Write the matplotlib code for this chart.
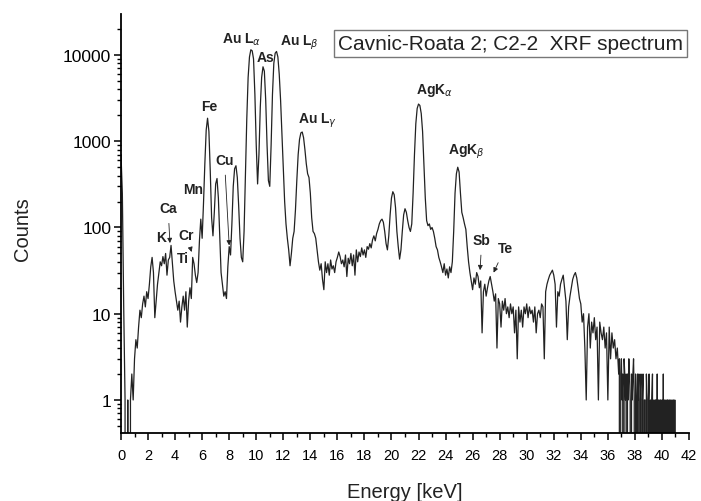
import numpy as np
import matplotlib
matplotlib.use("Agg")
import matplotlib.pyplot as plt
from matplotlib.ticker import LogLocator, MultipleLocator, NullFormatter, FixedLocator, FixedFormatter

plt.rcParams['font.family'] = ['Liberation Sans', 'DejaVu Sans']

# Counts, 0.1 keV bins from 0.0 to 36.7 keV
counts_main = [
    700, 250, 12, 1, 0, 1, 0, 1, 2, 1,                    # 0.0-0.9
    3, 5, 4, 7, 11, 9, 13, 16, 12, 18,                    # 1.0-1.9
    15, 22, 35, 45, 30, 9, 14, 22, 30, 40,                # 2.0-2.9
    36, 46, 38, 50, 28, 42, 45, 62, 38, 24,               # 3.0-3.9
    18, 14, 11, 14, 8, 12, 16, 11, 18, 7,                 # 4.0-4.9
    14, 20, 15, 45, 38, 28, 23, 30, 70, 125,              # 5.0-5.9
    75, 190, 550, 1350, 1850, 1300, 450, 130, 80, 150,    # 6.0-6.9
    320, 370, 220, 80, 30, 22, 16, 18, 15, 35,            # 7.0-7.9
    60, 48, 110, 300, 480, 520, 380, 180, 75, 45,         # 8.0-8.9
    40, 90, 400, 1800, 5500, 9500, 11500, 11200, 9000, 3500,   # 9.0-9.9
    900, 320, 700, 2500, 5500, 7300, 6500, 3000, 900, 350,     # 10.0-10.9
    300, 900, 3500, 8000, 10500, 11000, 9500, 6000, 3000, 1200,  # 11.0-11.9
    450, 200, 110, 75, 55, 36, 50, 75, 90, 160,           # 12.0-12.9
    350, 700, 1050, 1250, 1280, 1100, 800, 550, 420, 380, # 13.0-13.9
    250, 130, 90, 85, 75, 55, 40, 32, 38, 25,             # 14.0-14.9
    19, 40, 30, 38, 28, 42, 33, 36, 30, 40,               # 15.0-15.9
    45, 52, 46, 38, 42, 35, 48, 27, 44, 38,               # 16.0-16.9
    50, 36, 48, 28, 55, 40, 52, 46, 58, 48,               # 17.0-17.9
    55, 45, 60, 56, 65, 58, 72, 80, 70, 85,               # 18.0-18.9
    95, 110, 120, 125, 115, 90, 65, 55, 80, 140,          # 19.0-19.9
    220, 260, 240, 170, 90, 60, 43, 55, 90, 140,          # 20.0-20.9
    165, 150, 120, 100, 90, 110, 250, 700, 1600, 2400,    # 21.0-21.9
    2700, 2600, 2100, 1300, 550, 220, 120, 105, 110, 95,  # 22.0-22.9
    100, 90, 75, 60, 55, 45, 40, 35, 30, 38,              # 23.0-23.9
    28, 33, 26, 35, 30, 40, 90, 250, 420, 500,            # 24.0-24.9
    440, 250, 150, 130, 110, 95, 60, 40, 30, 24,          # 25.0-25.9
    19, 26, 22, 30, 27, 20, 24, 6, 18, 22,                # 26.0-26.9
    16, 20, 24, 27, 22, 18, 14, 17, 4, 15,                # 27.0-27.9
    13, 7, 14, 11, 15, 10, 12, 9, 13, 10,                 # 28.0-28.9
    12, 6, 11, 3, 12, 8, 11, 7, 12, 10,                   # 29.0-29.9
    13, 9, 12, 10, 11, 8, 12, 6, 10, 11,                  # 30.0-30.9
    9, 13, 12, 3, 18, 22, 25, 28, 30, 32,                 # 31.0-31.9
    28, 22, 7, 18, 16, 22, 25, 28, 20, 14,                # 32.0-32.9
    5, 12, 16, 20, 25, 28, 30, 26, 20, 15,                # 33.0-33.9
    13, 8, 10, 4, 1, 7, 10, 4, 8, 6,                      # 34.0-34.9
    9, 5, 7, 1, 8, 6, 5, 7, 4, 6,                         # 35.0-35.9
    1, 7, 3, 6, 4, 5, 3, 4,                               # 36.0-36.7
]
# High-energy tail read at 0.05 keV bins from 36.8 to 41.0 keV
counts_tail = [
    2, 3, 0, 2, 3, 1, 2, 0, 3, 2,
    1, 2, 0, 2, 1, 3, 2, 1, 0, 2,
    1, 2, 3, 1, 0, 2, 1, 0, 2, 1,
    2, 0, 1, 2, 0, 1, 2, 0, 1, 1,
    0, 2, 1, 0, 1, 2, 0, 1, 0, 1,
    2, 0, 1, 0, 1, 1, 0, 2, 0, 1,
    0, 1, 1, 0, 1, 0, 2, 0, 1, 0,
    1, 0, 1, 1, 0, 1, 0, 1, 0, 1,
    0, 1, 0, 1, 0,
]
energy_main = np.round(np.arange(len(counts_main)) * 0.1, 2)
energy_tail = np.round(36.8 + np.arange(len(counts_tail)) * 0.05, 2)
energy = np.concatenate([energy_main, energy_tail])
counts = np.array(counts_main + counts_tail, dtype=float)

x_ticks = list(range(0, 43, 2))
x_ticklabels = [str(v) for v in x_ticks]
y_ticks = [1, 10, 100, 1000, 10000]
y_ticklabels = ['1', '10', '100', '1000', '10000']

# Peak labels: (text, energy, counts)
peak_labels = [
    (r'Au L$_{\alpha}$', 8.95, 15300),
    ('As', 10.7, 9500),
    (r'Au L$_{\beta}$', 13.2, 14100),
    ('Fe', 6.5, 2560),
    ('Cu', 7.65, 610),
    ('Mn', 5.36, 280),
    (r'Au L$_{\gamma}$', 14.5, 1770),
    (r'AgK$_{\alpha}$', 23.15, 3930),
    (r'AgK$_{\beta}$', 25.5, 771),
    ('Ca', 3.48, 168),
    ('K', 2.96, 78),
    ('Ti', 4.55, 44),
    ('Cr', 4.85, 82),
    ('Sb', 26.68, 72),
    ('Te', 28.4, 58),
]
# Arrows: label -> (tip energy, tip counts)
arrow_tips = {
    'Ca': (3.62, 66),
    'Cr': (5.22, 52),
    'Cu': (8.0, 62),
    'Sb': (26.55, 32),
    'Te': (27.55, 30),
}

fig = plt.figure(figsize=(7.01, 5.02), dpi=100)
ax = fig.add_axes([121/701, 1-434/502, (689-121)/701, (434-15)/502])

ax.plot(energy, counts, color='#222222', lw=0.9)
ax.set_yscale('log')
ax.set_xlim(0, 42)
ax.set_ylim(0.414, 29900)

ax.xaxis.set_major_locator(FixedLocator(x_ticks))
ax.xaxis.set_major_formatter(FixedFormatter(x_ticklabels))
ax.xaxis.set_minor_locator(MultipleLocator(1))
ax.yaxis.set_major_locator(FixedLocator(y_ticks))
ax.yaxis.set_major_formatter(FixedFormatter(y_ticklabels))
ax.yaxis.set_minor_locator(LogLocator(base=10, subs=np.arange(2, 10)))
ax.yaxis.set_minor_formatter(NullFormatter())

for s in ['top', 'right']:
    ax.spines[s].set_visible(False)
for s in ['left', 'bottom']:
    ax.spines[s].set_linewidth(1.3)

ax.tick_params(axis='both', which='major', direction='out', length=5, width=1.1)
ax.tick_params(axis='both', which='minor', direction='out', length=3, width=1.0)
ax.tick_params(axis='x', which='major', labelsize=10.5, pad=6)
ax.tick_params(axis='y', which='major', labelsize=12.5, pad=2)

ax.set_xlabel('Energy [keV]', fontsize=14.5, color='#222222')
ax.set_ylabel('Counts', fontsize=14.5, color='#222222')
ax.xaxis.set_label_coords(0.5, -0.117)
ax.yaxis.set_label_coords(-0.157, 0.49)

for txt, ex, cy in peak_labels:
    if txt in arrow_tips:
        tx, ty = arrow_tips[txt]
        ax.annotate(txt, xy=(tx, ty), xytext=(ex, cy), ha='center', va='center',
                    fontsize=10, fontweight='bold', color='#222222',
                    arrowprops=dict(arrowstyle='-|>', color='#222222', lw=0.6,
                                    mutation_scale=7, shrinkA=4, shrinkB=0))
    else:
        ax.text(ex, cy, txt, ha='center', va='center', fontsize=10,
                fontweight='bold', color='#222222')

fig.text(510.5/701, 1-44.5/502, 'Cavnic-Roata 2; C2-2  XRF spectrum', ha='center', va='center',
         fontsize=15, color='#222222',
         bbox=dict(boxstyle='square,pad=0.2', facecolor='white', edgecolor='#777777', lw=1.0))

fig.savefig('out.png', dpi=100)
